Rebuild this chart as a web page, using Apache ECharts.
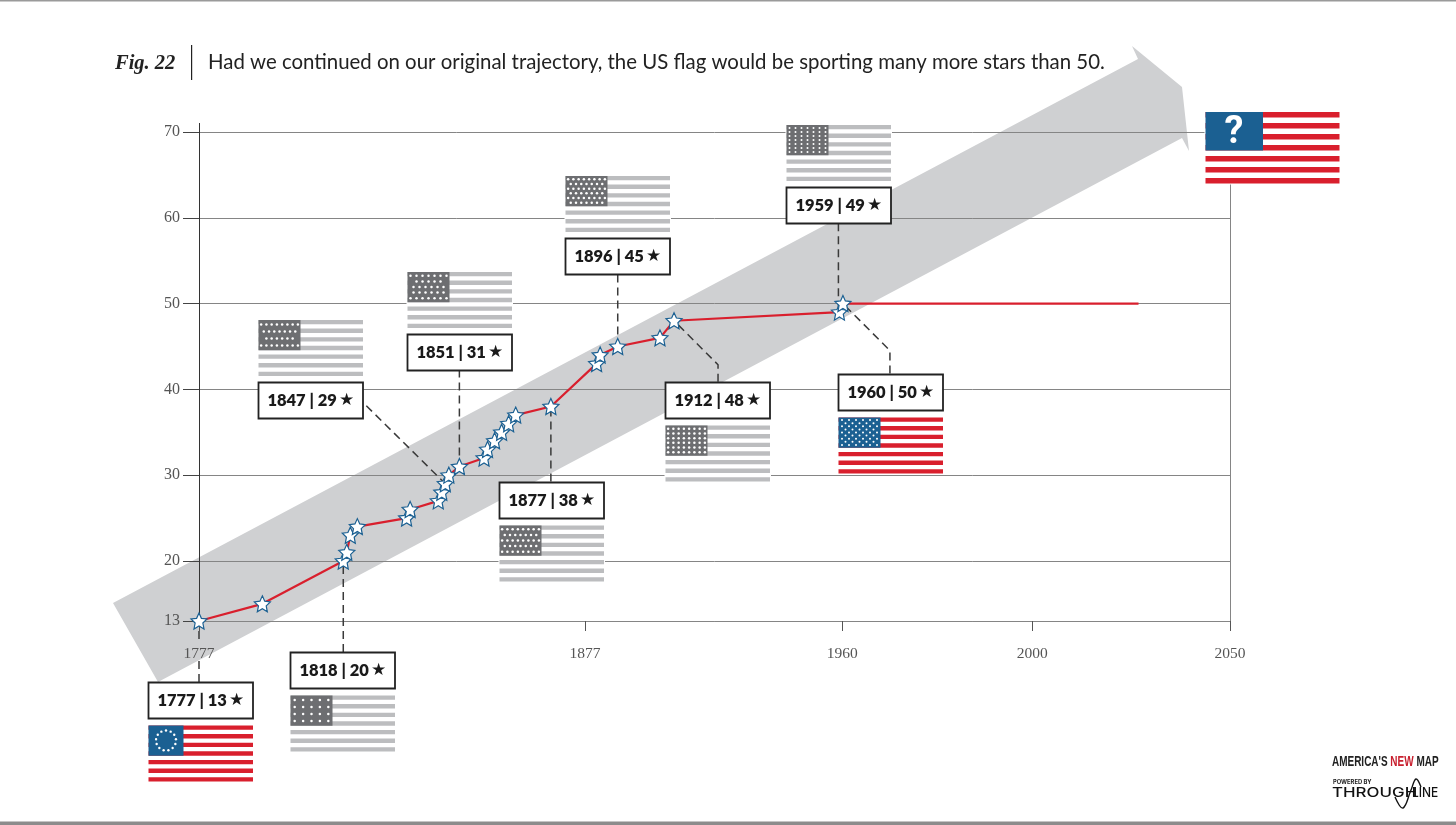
<!DOCTYPE html>
<html>
<head>
<meta charset="utf-8">
<title>Fig. 22</title>
<script src="https://cdn.jsdelivr.net/npm/echarts@6/dist/echarts.min.js"></script>
<style>
html, body { margin: 0; padding: 0; background: #fff; }
#chart { width: 1456px; height: 825px; }
</style>
</head>
<body>
<div id="chart"></div>
<script>
// star count each time the flag changed
var years = [1777, 1795, 1818, 1819, 1820, 1822, 1836, 1837, 1845, 1846, 1847, 1848, 1851, 1858, 1859, 1861, 1863, 1865, 1867, 1877, 1890, 1891, 1896, 1908, 1912, 1959, 1960];
var stars = [13, 15, 20, 21, 23, 24, 25, 26, 27, 28, 29, 30, 31, 32, 33, 34, 35, 36, 37, 38, 43, 44, 45, 46, 48, 49, 50];
// flat red line after 1960
var flatYears = [1960, 2044];
var flatStars = [50, 50];

// the printed x labels do not sit on the scale of the data, so tick places and names are kept apart
var xTickPlaces = [1777, 1886.7, 1959.8, 2013.8, 2070];
var xTickNames = ['1777', '1877', '1960', '2000', '2050'];
var yTicks = [13, 20, 30, 40, 50, 60, 70];

// flags with a label
var calloutYears = [1777, 1818, 1847, 1851, 1877, 1896, 1912, 1959, 1960];
var calloutStars = [13, 20, 29, 31, 38, 45, 48, 49, 50];
var calloutColor = [true, false, false, false, false, false, false, false, true];
// stars per row in the canton, empty = ring
var cantonRows = [
    [],
    [5, 5, 5, 5],
    [8, 7, 6, 8],
    [7, 5, 6, 6, 7],
    [8, 7, 8, 7, 8],
    [8, 7, 8, 7, 8, 7],
    [8, 8, 8, 8, 8, 8],
    [7, 7, 7, 7, 7, 7, 7],
    [6, 5, 6, 5, 6, 5, 6, 5, 6]
];

// layout of the cards, in pixels from the star
var BOX_W = 104.5, BOX_H = 36, FLAG_H = 56;
var boxOffset = [[-51, 61], [-53, 91], [-187, -102], [-52, -133], [-52, 75], [-53, -108], [-9, 61], [-53, -125], [-5, 70]];
var flagBelow = [true, true, false, false, true, false, true, false, true];
var cantonWidth = [35, 42, 42, 42, 42, 42, 42, 42, 42];
// dashed runs, drawn from the card to the star. the 1777 one breaks around its tick label
var leaders = [
    [[[0, 61], [0, 39]], [[0, 18], [0, 0]]],
    [[[0, 91], [0, 0]]],
    [[[-79, -78], [0, 0]]],
    [[[0, -97], [0, 0]]],
    [[[0, 75], [0, 0]]],
    [[[0, -72], [0, 0]]],
    [[[44, 61], [44, 44], [0, 0]]],
    [[[-1, -89], [-1, 0]]],
    [[[47, 70], [47, 47], [0, 0]]]
];

var RED = '#d91f2d', BLUE = '#1b6092', GREY_STRIPE = '#bcbdbf', GREY_CANTON = '#6d6e71';
var SERIF = '"Liberation Serif", serif';
var SANS = 'Lato, sans-serif';
var STAR_PATH = 'path://M12 0 L15.6 8 L24 9 L17.8 15 L19.5 24 L12 19.4 L4.5 24 L6.2 15 L0 9 L8.4 8 Z';

// stripes, canton and white backing; dots or text go on top
function flagParts(x, y, w, h, cantonW, stripeColor, cantonColor) {
    var parts = [{ type: 'rect', shape: { x: x - 1, y: y - 1, width: w + 2, height: h + 2 }, style: { fill: '#fff' } }];
    var stripeH = h * 0.077;
    var step = (h - stripeH) / 6;
    for (var i = 0; i < 7; i++) {
        parts.push({ type: 'rect', shape: { x: x, y: y + i * step, width: w, height: stripeH }, style: { fill: stripeColor } });
    }
    parts.push({ type: 'rect', shape: { x: x, y: y, width: cantonW, height: 3 * step + stripeH }, style: { fill: cantonColor } });
    return parts;
}

function cantonDots(x, y, w, h, rows) {
    var dots = [];
    if (rows.length === 0) {
        for (var k = 0; k < 13; k++) {
            var a = k / 13 * Math.PI * 2;
            dots.push({ type: 'circle', shape: { cx: x + w / 2 + Math.sin(a) * 10, cy: y + h / 2 - Math.cos(a) * 10, r: 1.2 }, style: { fill: '#fff' } });
        }
        return dots;
    }
    var maxCols = Math.max.apply(null, rows);
    var colGap = w / maxCols;
    var rowGap = (h - 2) / rows.length;
    var r = rows.length > 6 ? 1 : 1.25;
    for (var i = 0; i < rows.length; i++) {
        var left = x + w / 2 - (rows[i] - 1) * colGap / 2;
        for (var j = 0; j < rows[i]; j++) {
            dots.push({ type: 'circle', shape: { cx: left + j * colGap, cy: y + 1 + rowGap * (i + 0.5), r: r }, style: { fill: '#fff' } });
        }
    }
    return dots;
}

function renderLeader(params, api) {
    var i = api.value(2);
    var c = api.coord([api.value(0), api.value(1)]);
    var lines = leaders[i].map(function (run) {
        return {
            type: 'polyline',
            shape: { points: run.map(function (p) { return [c[0] + p[0], c[1] + p[1]]; }) },
            style: { fill: null, stroke: '#3a3a3a', lineWidth: 1.5, lineDash: [8, 5] }
        };
    });
    return { type: 'group', children: lines };
}

function renderCard(params, api) {
    var i = api.value(2);
    var c = api.coord([api.value(0), api.value(1)]);
    var bx = Math.round(c[0] + boxOffset[i][0]) + 0.5;
    var by = Math.round(c[1] + boxOffset[i][1]) + 0.5;
    var fy = flagBelow[i] ? by + BOX_H + 7 : by - FLAG_H - 6.5;
    var stripe = calloutColor[i] ? RED : GREY_STRIPE;
    var canton = calloutColor[i] ? BLUE : GREY_CANTON;
    var children = flagParts(bx, fy, BOX_W, FLAG_H, cantonWidth[i], stripe, canton);
    children = children.concat(cantonDots(bx, fy, cantonWidth[i], 30, cantonRows[i]));
    children.push({
        type: 'rect',
        shape: { x: bx, y: by, width: BOX_W, height: BOX_H },
        style: { fill: '#fff', stroke: '#222', lineWidth: 1.8 }
    });
    children.push({
        type: 'text',
        style: {
            x: bx + BOX_W / 2, y: by + BOX_H / 2 + 0.5,
            text: '{t|' + api.value(0) + ' | ' + api.value(1) + '}{s|★}',
            textAlign: 'center', textVerticalAlign: 'middle',
            rich: {
                t: { font: '800 16.5px ' + SANS, fill: '#1a1a1a' },
                s: { font: '17px "DejaVu Sans", sans-serif', fill: '#1a1a1a', padding: [0, 0, 0, 2] }
            }
        }
    });
    return { type: 'group', children: children };
}

var calloutData = calloutYears.map(function (y, i) { return [y, calloutStars[i], i]; });

var chart = echarts.init(document.getElementById('chart'));

var questionFlag = flagParts(1205.5, 112, 134, 71.5, 57.5, RED, BLUE).concat([{
    type: 'text',
    style: { x: 1234, y: 133, text: '?', font: '700 38px Roboto, sans-serif', fill: '#fff', textAlign: 'center', textVerticalAlign: 'middle' }
}]);
questionFlag.forEach(function (el) { el.z = 6; });

var graphics = [
    // page edges
    { type: 'rect', z: -2, shape: { x: 0, y: 0, width: 1456, height: 1.5 }, style: { fill: '#9a9a9a' } },
    { type: 'rect', z: -2, shape: { x: 0, y: 821.5, width: 1456, height: 4 }, style: { fill: '#8c8c8c' } },
    // title rule
    { type: 'rect', shape: { x: 191, y: 45, width: 1.2, height: 35 }, style: { fill: '#222' } },
    // big arrow behind the plot
    {
        type: 'polygon', z: -1,
        shape: { points: [[113, 603], [1138, 59], [1132, 46], [1182, 87], [1189, 151], [1182, 138], [158, 682]] },
        style: { fill: '#cfd0d2' }
    },
    // question mark flag
    { type: 'group', children: questionFlag },
    // logo, no narrow font on hand so the text is squeezed
    {
        type: 'text', z: 6,
        x: 1332, y: 762, scaleX: 0.665,
        style: {
            x: 0, y: 0,
            text: "{a|AMERICA'S }{b|NEW}{a| MAP}",
            textVerticalAlign: 'middle',
            rich: {
                a: { font: '700 15px "Liberation Sans", sans-serif', fill: '#222' },
                b: { font: '700 15px "Liberation Sans", sans-serif', fill: '#c8202f' }
            }
        }
    },
    { type: 'text', z: 6, style: { x: 1333, y: 782, text: 'POWERED BY', font: '700 5.8px Inter, sans-serif', fill: '#222', textVerticalAlign: 'middle' } },
    { type: 'text', z: 6, x: 1332, y: 793, scaleX: 1.3, style: { x: 0, y: 0, text: 'THROUGH', font: '500 13px Inter, sans-serif', fill: '#111', textVerticalAlign: 'middle' } },
    { type: 'text', z: 6, x: 1412, y: 793, scaleX: 0.92, style: { x: 0, y: 0, text: 'LINE', font: '500 13px Inter, sans-serif', fill: '#111', textVerticalAlign: 'middle' } },
    {
        type: 'polyline', z: 6,
        shape: { points: [[1395, 797], [1403, 808], [1411, 790], [1416, 779], [1421, 787]], smooth: 0.4 },
        style: { fill: null, stroke: '#111', lineWidth: 1.4 }
    }
];

var option = {
    backgroundColor: '#fff',
    animation: false,
    title: [
        { text: 'Fig. 22', left: 115, top: 54, padding: 0, textStyle: { fontFamily: SERIF, fontSize: 20.5, fontWeight: 'bold', fontStyle: 'italic', color: '#222' } },
        { text: 'Had we continued on our original trajectory, the US flag would be sporting many more stars than 50.', left: 208, top: 52, padding: 0, textStyle: { fontFamily: SANS, fontSize: 20.4, fontWeight: 'normal', color: '#222' } }
    ],
    grid: { left: 199, right: 226, top: 123.4, bottom: 204, containLabel: false },
    xAxis: {
        type: 'value',
        min: 1777,
        max: 2070,
        axisLine: { show: true, lineStyle: { color: '#858585', width: 1 } },
        axisTick: { show: true, length: 10, customValues: xTickPlaces, lineStyle: { color: '#555' } },
        axisLabel: {
            customValues: xTickPlaces,
            margin: 25,
            fontFamily: SERIF, fontSize: 15.5, color: '#555',
            formatter: function (v) {
                return xTickNames[xTickPlaces.indexOf(v)];
            }
        },
        splitLine: { show: false }
    },
    yAxis: [
        {
            type: 'value',
            min: 13,
            max: 71,
            axisLine: { show: true, lineStyle: { color: '#333', width: 1 } },
            axisTick: { show: true, length: 16, customValues: yTicks, lineStyle: { color: '#444' } },
            axisLabel: { customValues: yTicks, margin: 19, padding: [4, 0, 0, 0], fontFamily: SERIF, fontSize: 16, color: '#555' },
            splitLine: { show: true, lineStyle: { color: '#858585', width: 1 } }
        },
        {
            type: 'value',
            position: 'right',
            min: 13,
            max: 71,
            axisLine: { show: true, lineStyle: { color: '#858585', width: 1 } },
            axisTick: { show: false },
            axisLabel: { show: false },
            splitLine: { show: false }
        }
    ],
    series: [
        {
            name: 'leaders',
            type: 'custom',
            z: 2,
            clip: false,
            renderItem: renderLeader,
            encode: { x: 0, y: 1 },
            data: calloutData
        },
        {
            name: 'flat',
            type: 'line',
            z: 3,
            symbol: 'none',
            lineStyle: { color: RED, width: 2.2 },
            data: flatYears.map(function (y, i) { return [y, flatStars[i]]; })
        },
        {
            name: 'stars',
            type: 'line',
            z: 4,
            symbol: STAR_PATH,
            symbolSize: 16,
            itemStyle: { color: '#fff', borderColor: BLUE, borderWidth: 1.2 },
            lineStyle: { color: RED, width: 2.2 },
            clip: false,
            data: years.map(function (y, i) { return [y, stars[i]]; })
        },
        {
            name: 'cards',
            type: 'custom',
            z: 5,
            clip: false,
            renderItem: renderCard,
            encode: { x: 0, y: 1 },
            data: calloutData
        }
    ],
    graphic: { elements: graphics }
};

chart.setOption(option);
</script>
</body>
</html>
